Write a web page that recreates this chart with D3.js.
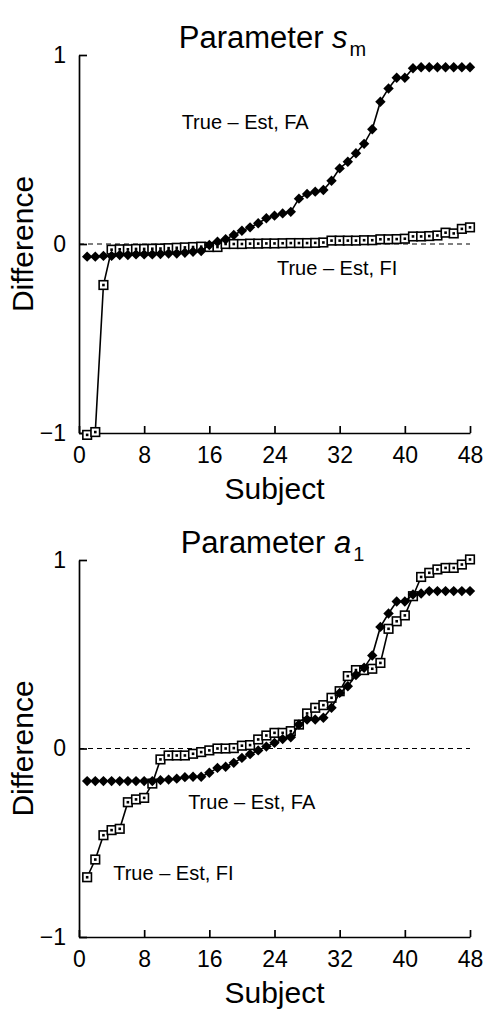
<!DOCTYPE html>
<html lang="en">
<head>
<meta charset="UTF-8">
<script src="https://d3js.org/d3.v7.min.js"></script>
<title>Parameter differences</title>
<style>
  body { margin: 0; background: #fff; }
  text { font-family: "Liberation Sans", Arial, sans-serif; fill: #000; }
</style>
</head>
<body>
<svg id="chart" width="488" height="1011"></svg>
<script>
// subjects 1..48
var subjects = d3.range(1, 49);
var xTicks = [0, 8, 16, 24, 32, 40, 48];
var yTicks = [-1, 0, 1];

// Parameter s_m
var smFA = [-0.067, -0.067, -0.063, -0.063, -0.058, -0.058, -0.055, -0.055, -0.055, -0.053,
            -0.05, -0.05, -0.046, -0.041, -0.037, -0.005, 0.012, 0.025, 0.048, 0.07,
            0.088, 0.11, 0.136, 0.15, 0.162, 0.17, 0.24, 0.265, 0.277, 0.286,
            0.335, 0.40, 0.435, 0.48, 0.53, 0.607, 0.753, 0.823, 0.88, 0.88,
            0.93, 0.935, 0.935, 0.935, 0.935, 0.935, 0.935, 0.935];
var smFI = [-1.01, -0.995, -0.217, -0.03, -0.028, -0.028, -0.026, -0.026, -0.025, -0.024,
            -0.022, -0.02, -0.018, -0.016, -0.014, -0.016, -0.016, 0.0, 0.0, 0.0,
            0.002, 0.002, 0.003, 0.003, 0.004, 0.005, 0.005, 0.005, 0.006, 0.008,
            0.018, 0.018, 0.018, 0.018, 0.02, 0.02, 0.025, 0.025, 0.026, 0.028,
            0.04, 0.04, 0.042, 0.045, 0.06, 0.056, 0.08, 0.088];

// Parameter a_1
var a1FA = [-0.173, -0.173, -0.173, -0.173, -0.173, -0.173, -0.173, -0.173, -0.173, -0.168,
            -0.165, -0.16, -0.152, -0.15, -0.15, -0.129, -0.103, -0.097, -0.076, -0.05,
            -0.03, -0.01, 0.01, 0.03, 0.05, 0.06, 0.127, 0.154, 0.154, 0.163,
            0.216, 0.295, 0.33, 0.39, 0.428, 0.493, 0.645, 0.716, 0.78, 0.78,
            0.817, 0.822, 0.835, 0.835, 0.835, 0.835, 0.835, 0.835];
var a1FI = [-0.683, -0.589, -0.46, -0.433, -0.426, -0.285, -0.27, -0.262, -0.186, -0.058,
            -0.037, -0.037, -0.037, -0.028, -0.019, -0.01, 0.0, 0.0, 0.002, 0.015,
            0.018, 0.048, 0.069, 0.083, 0.083, 0.092, 0.127, 0.186, 0.216, 0.23,
            0.269, 0.304, 0.384, 0.416, 0.416, 0.423, 0.454, 0.635, 0.675, 0.706,
            0.808, 0.91, 0.932, 0.95, 0.958, 0.958, 0.976, 1.003];

var panels = [
  { title: "Parameter ", sym: "s", sub: "m", fa: smFA, fi: smFI,
    top: 55, bottom: 433,
    labels: [{ text: "True \u2013 Est, FA", s: 12.6, v: 0.61 },
             { text: "True \u2013 Est, FI", s: 24.3, v: -0.165 }] },
  { title: "Parameter ", sym: "a", sub: "1", fa: a1FA, fi: a1FI,
    top: 560, bottom: 937,
    labels: [{ text: "True \u2013 Est, FA", s: 13.4, v: -0.32 },
             { text: "True \u2013 Est, FI", s: 4.2, v: -0.70 }] }
];

var svg = d3.select("#chart");
var left = 79, right = 470;

var x = d3.scaleLinear().domain([0, 48]).range([left, right]);

panels.forEach(function(p) {
  var y = d3.scaleLinear().domain([-1, 1]).range([p.bottom, p.top]);
  var g = svg.append("g");

  // title
  var t = g.append("text")
    .attr("x", (left + right) / 2 - 2)
    .attr("y", p.top - 7)
    .attr("text-anchor", "middle")
    .style("font-size", "31px");
  t.append("tspan").text(p.title);
  t.append("tspan").style("font-style", "italic").text(p.sym);
  t.append("tspan").attr("dy", 8).attr("dx", 2).style("font-size", "20px").text(p.sub);

  // zero reference line
  g.append("line")
    .attr("x1", x(0)).attr("x2", x(48))
    .attr("y1", y(0)).attr("y2", y(0))
    .attr("stroke", "#000")
    .attr("stroke-width", 1.2)
    .attr("stroke-dasharray", "5,4");

  // axes
  var yAxis = d3.axisLeft(y).tickValues(yTicks).tickSizeInner(-8).tickSizeOuter(0)
    .tickPadding(13).tickFormat(d3.format("d"));
  var xAxis = d3.axisBottom(x).tickValues(xTicks).tickSizeInner(-7).tickSizeOuter(0)
    .tickPadding(14);

  var ya = g.append("g").attr("transform", "translate(" + left + ",0)").call(yAxis);
  var xa = g.append("g").attr("transform", "translate(0," + p.bottom + ")").call(xAxis);
  [ya, xa].forEach(function(a) {
    a.select(".domain").attr("stroke", "#000").attr("stroke-width", 1.7);
    a.selectAll(".tick line").attr("stroke", "#000").attr("stroke-width", 1.7);
    a.selectAll(".tick text").style("font-size", "23px")
      .style("font-family", "'Liberation Sans', Arial, sans-serif").attr("fill", "#000");
  });

  // axis labels
  g.append("text")
    .attr("x", (left + right) / 2)
    .attr("y", p.bottom + 66)
    .attr("text-anchor", "middle")
    .style("font-size", "30px")
    .text("Subject");
  g.append("text")
    .attr("transform", "translate(33," + y(0) + ") rotate(-90)")
    .attr("text-anchor", "middle")
    .style("font-size", "30px")
    .text("Difference");

  var line = d3.line().x(function(d, i) { return x(subjects[i]); }).y(function(d) { return y(d); });

  // FI series: open squares with centre dot
  g.append("path").datum(p.fi).attr("d", line)
    .attr("fill", "none").attr("stroke", "#000").attr("stroke-width", 1.6);
  var sq = g.append("g").selectAll("g").data(p.fi).join("g")
    .attr("transform", function(d, i) { return "translate(" + x(subjects[i]) + "," + y(d) + ")"; });
  sq.append("rect").attr("x", -4.3).attr("y", -4.3).attr("width", 8.6).attr("height", 8.6)
    .attr("fill", "#fff").attr("stroke", "#000").attr("stroke-width", 1.6);
  sq.append("rect").attr("x", -1.3).attr("y", -1.3).attr("width", 2.6).attr("height", 2.6)
    .attr("fill", "#000");

  // FA series: filled diamonds
  g.append("path").datum(p.fa).attr("d", line)
    .attr("fill", "none").attr("stroke", "#000").attr("stroke-width", 1.6);
  g.append("g").selectAll("path").data(p.fa).join("path")
    .attr("d", "M0,-5.2L5.2,0L0,5.2L-5.2,0Z")
    .attr("transform", function(d, i) { return "translate(" + x(subjects[i]) + "," + y(d) + ")"; })
    .attr("fill", "#000");

  // annotations
  g.selectAll("text.note").data(p.labels).join("text")
    .attr("class", "note")
    .attr("x", function(d) { return x(d.s); })
    .attr("y", function(d) { return y(d.v); })
    .style("font-size", "20px")
    .text(function(d) { return d.text; });
});
</script>
</body>
</html>
